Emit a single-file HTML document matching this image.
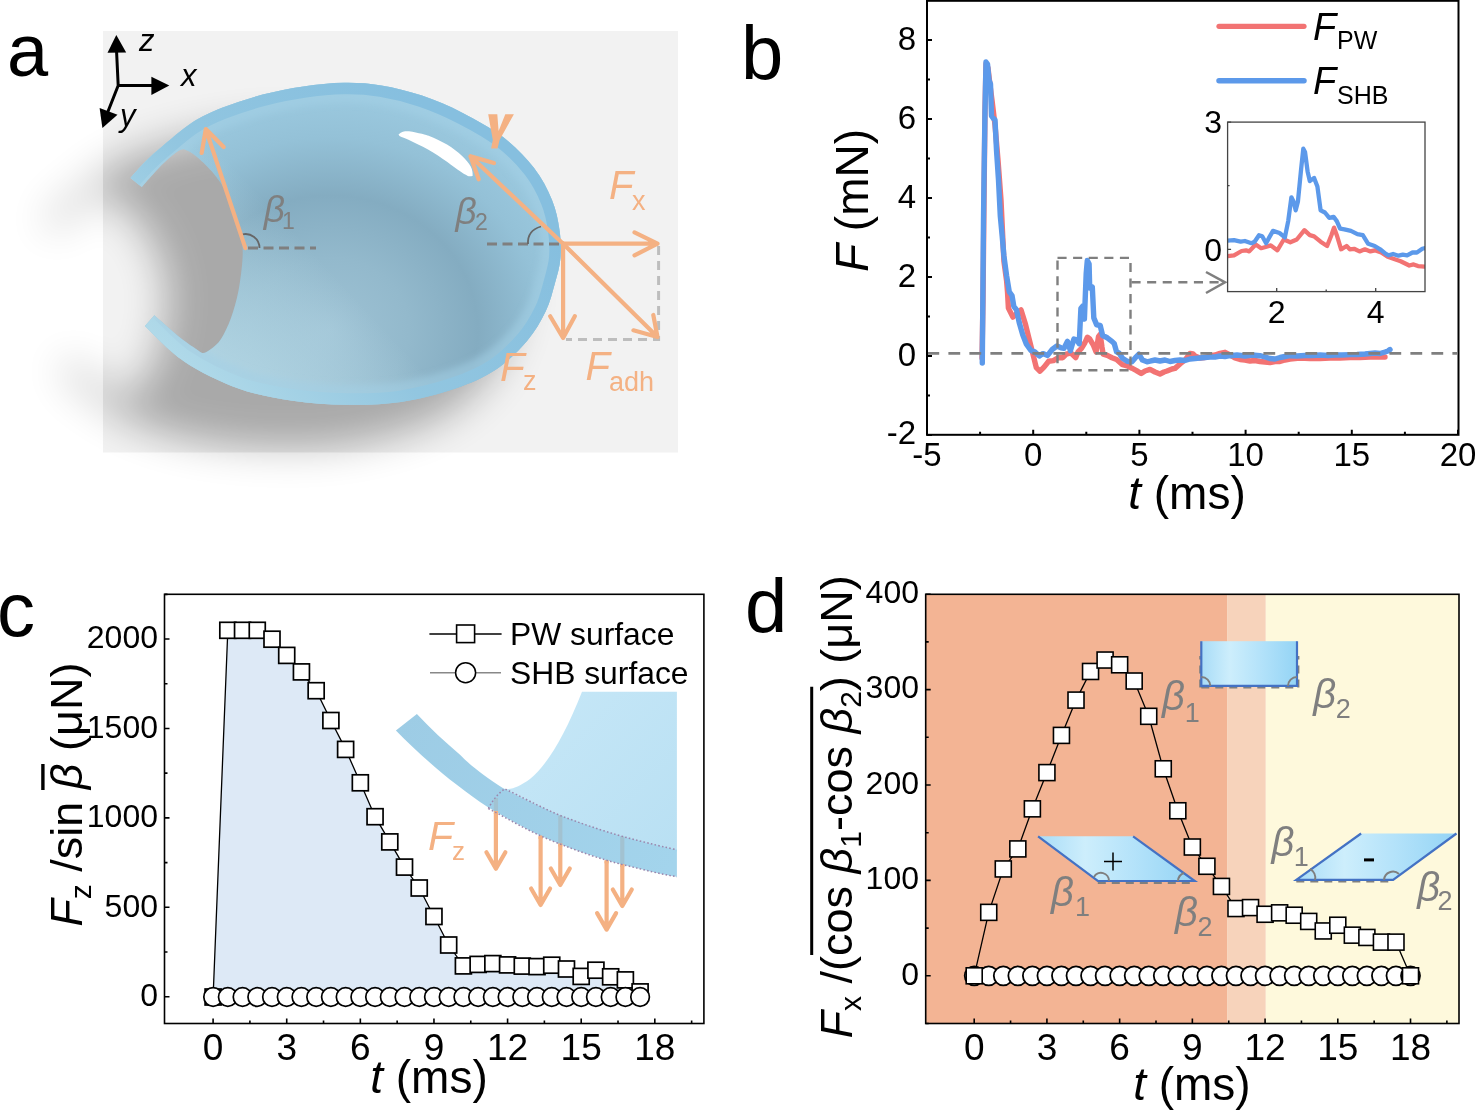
<!DOCTYPE html><html><head><meta charset="utf-8"><style>html,body{margin:0;padding:0;background:#fff;}svg{display:block;will-change:transform;}svg text{font-family:"Liberation Sans",sans-serif;}</style></head><body>
<svg width="1475" height="1110" viewBox="0 0 1475 1110">
<rect width="1475" height="1110" fill="#fff"/>
<defs>
<filter id="shblur" x="-50%" y="-50%" width="200%" height="200%"><feGaussianBlur stdDeviation="20"/></filter>
<filter id="rimblur" x="-10%" y="-10%" width="120%" height="120%"><feGaussianBlur stdDeviation="3"/></filter>
<clipPath id="boxclip"><rect x="103" y="31" width="575" height="421.5"/></clipPath>
<clipPath id="dropclip"><path d="M130.5,178.0 C132.9,175.3 139.9,167.1 145.0,162.0 C150.1,156.9 153.2,154.0 161.0,147.5 C168.8,141.0 181.3,129.6 191.5,123.0 C201.7,116.4 210.1,112.5 222.0,107.8 C233.9,103.1 249.1,98.2 262.7,94.6 C276.3,91.0 289.8,88.4 303.4,86.4 C316.9,84.4 331.0,83.0 344.0,82.8 C357.0,82.6 368.3,83.3 381.3,85.4 C394.3,87.5 408.4,91.0 422.0,95.6 C435.6,100.2 449.1,106.0 462.7,112.9 C476.3,119.9 491.5,128.2 503.4,137.3 C515.3,146.5 525.8,157.4 533.9,167.8 C542.0,178.2 547.7,189.6 552.0,200.0 C556.3,210.4 558.1,220.3 559.5,230.0 C560.9,239.7 561.2,249.2 560.5,258.0 C559.8,266.8 557.5,274.1 555.0,283.0 C552.5,291.9 550.3,301.9 545.6,311.6 C540.9,321.3 535.3,331.4 527.0,341.0 C518.7,350.6 507.9,361.6 496.0,369.5 C484.1,377.4 471.2,383.1 455.4,388.5 C439.6,393.9 419.1,399.3 401.0,402.0 C382.9,404.7 365.1,404.9 347.0,404.7 C328.9,404.5 310.8,403.4 292.7,400.7 C274.6,398.0 256.6,395.1 238.5,388.5 C220.4,381.9 199.8,371.8 184.2,361.4 C168.6,351.0 151.4,331.9 144.9,326.0 L154.4,315.3 C158.3,318.8 171.1,330.4 178.0,336.0 C184.9,341.6 191.8,346.2 196.0,349.0 C200.2,351.8 200.7,353.0 203.2,353.0 C205.7,353.0 208.0,351.3 211.0,349.0 C214.0,346.7 217.7,344.2 221.0,339.0 C224.3,333.8 228.1,326.0 231.0,318.0 C233.9,310.0 236.6,300.8 238.5,290.8 C240.4,280.8 242.1,266.8 242.6,258.0 C243.1,249.2 242.3,244.3 241.5,238.0 C240.7,231.7 240.1,227.7 237.5,220.0 C234.9,212.3 229.9,199.7 226.0,192.0 C222.1,184.3 218.6,179.6 213.9,173.9 C209.2,168.2 202.1,161.5 197.6,157.6 C193.1,153.7 189.9,151.8 187.0,150.5 C184.1,149.2 183.2,148.6 180.0,150.0 C176.8,151.4 172.2,155.3 168.0,159.0 C163.8,162.7 159.4,167.3 155.0,172.0 C150.6,176.7 143.9,184.6 141.7,187.1 Z"/></clipPath>
<radialGradient id="body" gradientUnits="userSpaceOnUse" cx="330" cy="330" r="240" gradientTransform="translate(330 330) scale(1.1 1) translate(-330 -330)"><stop offset="0" stop-color="#9ec2d4"/><stop offset="0.3" stop-color="#93b9cc"/><stop offset="0.56" stop-color="#84acc1"/><stop offset="0.8" stop-color="#94c1d7"/><stop offset="1" stop-color="#9ccae0"/></radialGradient>
<linearGradient id="bl" gradientUnits="userSpaceOnUse" x1="190" y1="400" x2="330" y2="270"><stop offset="0" stop-color="#c0e2ee" stop-opacity="0.9"/><stop offset="1" stop-color="#c4e6f1" stop-opacity="0"/></linearGradient>
<linearGradient id="rim" gradientUnits="userSpaceOnUse" x1="150" y1="360" x2="420" y2="100"><stop offset="0" stop-color="#b4dcea"/><stop offset="0.45" stop-color="#92c6e0"/><stop offset="1" stop-color="#86bfdf"/></linearGradient>
</defs>
<g filter="url(#shblur)" opacity="0.23"><path d="M130.5,178.0 C132.9,175.3 139.9,167.1 145.0,162.0 C150.1,156.9 153.2,154.0 161.0,147.5 C168.8,141.0 181.3,129.6 191.5,123.0 C201.7,116.4 210.1,112.5 222.0,107.8 C233.9,103.1 249.1,98.2 262.7,94.6 C276.3,91.0 289.8,88.4 303.4,86.4 C316.9,84.4 331.0,83.0 344.0,82.8 C357.0,82.6 368.3,83.3 381.3,85.4 C394.3,87.5 408.4,91.0 422.0,95.6 C435.6,100.2 449.1,106.0 462.7,112.9 C476.3,119.9 491.5,128.2 503.4,137.3 C515.3,146.5 525.8,157.4 533.9,167.8 C542.0,178.2 547.7,189.6 552.0,200.0 C556.3,210.4 558.1,220.3 559.5,230.0 C560.9,239.7 561.2,249.2 560.5,258.0 C559.8,266.8 557.5,274.1 555.0,283.0 C552.5,291.9 550.3,301.9 545.6,311.6 C540.9,321.3 535.3,331.4 527.0,341.0 C518.7,350.6 507.9,361.6 496.0,369.5 C484.1,377.4 471.2,383.1 455.4,388.5 C439.6,393.9 419.1,399.3 401.0,402.0 C382.9,404.7 365.1,404.9 347.0,404.7 C328.9,404.5 310.8,403.4 292.7,400.7 C274.6,398.0 256.6,395.1 238.5,388.5 C220.4,381.9 199.8,371.8 184.2,361.4 C168.6,351.0 151.4,331.9 144.9,326.0 L154.4,315.3 C158.3,318.8 171.1,330.4 178.0,336.0 C184.9,341.6 191.8,346.2 196.0,349.0 C200.2,351.8 200.7,353.0 203.2,353.0 C205.7,353.0 208.0,351.3 211.0,349.0 C214.0,346.7 217.7,344.2 221.0,339.0 C224.3,333.8 228.1,326.0 231.0,318.0 C233.9,310.0 236.6,300.8 238.5,290.8 C240.4,280.8 242.1,266.8 242.6,258.0 C243.1,249.2 242.3,244.3 241.5,238.0 C240.7,231.7 240.1,227.7 237.5,220.0 C234.9,212.3 229.9,199.7 226.0,192.0 C222.1,184.3 218.6,179.6 213.9,173.9 C209.2,168.2 202.1,161.5 197.6,157.6 C193.1,153.7 189.9,151.8 187.0,150.5 C184.1,149.2 183.2,148.6 180.0,150.0 C176.8,151.4 172.2,155.3 168.0,159.0 C163.8,162.7 159.4,167.3 155.0,172.0 C150.6,176.7 143.9,184.6 141.7,187.1 Z" transform="translate(-66 44) translate(340 245) scale(1.1 1.0) translate(-340 -245)" fill="#000"/></g>
<rect x="103" y="31" width="575" height="421.5" fill="#f2f2f2"/>
<g clip-path="url(#boxclip)"><g filter="url(#shblur)" opacity="0.3"><path d="M130.5,178.0 C132.9,175.3 139.9,167.1 145.0,162.0 C150.1,156.9 153.2,154.0 161.0,147.5 C168.8,141.0 181.3,129.6 191.5,123.0 C201.7,116.4 210.1,112.5 222.0,107.8 C233.9,103.1 249.1,98.2 262.7,94.6 C276.3,91.0 289.8,88.4 303.4,86.4 C316.9,84.4 331.0,83.0 344.0,82.8 C357.0,82.6 368.3,83.3 381.3,85.4 C394.3,87.5 408.4,91.0 422.0,95.6 C435.6,100.2 449.1,106.0 462.7,112.9 C476.3,119.9 491.5,128.2 503.4,137.3 C515.3,146.5 525.8,157.4 533.9,167.8 C542.0,178.2 547.7,189.6 552.0,200.0 C556.3,210.4 558.1,220.3 559.5,230.0 C560.9,239.7 561.2,249.2 560.5,258.0 C559.8,266.8 557.5,274.1 555.0,283.0 C552.5,291.9 550.3,301.9 545.6,311.6 C540.9,321.3 535.3,331.4 527.0,341.0 C518.7,350.6 507.9,361.6 496.0,369.5 C484.1,377.4 471.2,383.1 455.4,388.5 C439.6,393.9 419.1,399.3 401.0,402.0 C382.9,404.7 365.1,404.9 347.0,404.7 C328.9,404.5 310.8,403.4 292.7,400.7 C274.6,398.0 256.6,395.1 238.5,388.5 C220.4,381.9 199.8,371.8 184.2,361.4 C168.6,351.0 151.4,331.9 144.9,326.0 L154.4,315.3 C158.3,318.8 171.1,330.4 178.0,336.0 C184.9,341.6 191.8,346.2 196.0,349.0 C200.2,351.8 200.7,353.0 203.2,353.0 C205.7,353.0 208.0,351.3 211.0,349.0 C214.0,346.7 217.7,344.2 221.0,339.0 C224.3,333.8 228.1,326.0 231.0,318.0 C233.9,310.0 236.6,300.8 238.5,290.8 C240.4,280.8 242.1,266.8 242.6,258.0 C243.1,249.2 242.3,244.3 241.5,238.0 C240.7,231.7 240.1,227.7 237.5,220.0 C234.9,212.3 229.9,199.7 226.0,192.0 C222.1,184.3 218.6,179.6 213.9,173.9 C209.2,168.2 202.1,161.5 197.6,157.6 C193.1,153.7 189.9,151.8 187.0,150.5 C184.1,149.2 183.2,148.6 180.0,150.0 C176.8,151.4 172.2,155.3 168.0,159.0 C163.8,162.7 159.4,167.3 155.0,172.0 C150.6,176.7 143.9,184.6 141.7,187.1 Z" transform="translate(-66 44) translate(340 245) scale(1.1 1.0) translate(-340 -245)" fill="#000"/></g></g>
<path d="M130.5,178.0 C132.9,175.3 139.9,167.1 145.0,162.0 C150.1,156.9 153.2,154.0 161.0,147.5 C168.8,141.0 181.3,129.6 191.5,123.0 C201.7,116.4 210.1,112.5 222.0,107.8 C233.9,103.1 249.1,98.2 262.7,94.6 C276.3,91.0 289.8,88.4 303.4,86.4 C316.9,84.4 331.0,83.0 344.0,82.8 C357.0,82.6 368.3,83.3 381.3,85.4 C394.3,87.5 408.4,91.0 422.0,95.6 C435.6,100.2 449.1,106.0 462.7,112.9 C476.3,119.9 491.5,128.2 503.4,137.3 C515.3,146.5 525.8,157.4 533.9,167.8 C542.0,178.2 547.7,189.6 552.0,200.0 C556.3,210.4 558.1,220.3 559.5,230.0 C560.9,239.7 561.2,249.2 560.5,258.0 C559.8,266.8 557.5,274.1 555.0,283.0 C552.5,291.9 550.3,301.9 545.6,311.6 C540.9,321.3 535.3,331.4 527.0,341.0 C518.7,350.6 507.9,361.6 496.0,369.5 C484.1,377.4 471.2,383.1 455.4,388.5 C439.6,393.9 419.1,399.3 401.0,402.0 C382.9,404.7 365.1,404.9 347.0,404.7 C328.9,404.5 310.8,403.4 292.7,400.7 C274.6,398.0 256.6,395.1 238.5,388.5 C220.4,381.9 199.8,371.8 184.2,361.4 C168.6,351.0 151.4,331.9 144.9,326.0 L154.4,315.3 C158.3,318.8 171.1,330.4 178.0,336.0 C184.9,341.6 191.8,346.2 196.0,349.0 C200.2,351.8 200.7,353.0 203.2,353.0 C205.7,353.0 208.0,351.3 211.0,349.0 C214.0,346.7 217.7,344.2 221.0,339.0 C224.3,333.8 228.1,326.0 231.0,318.0 C233.9,310.0 236.6,300.8 238.5,290.8 C240.4,280.8 242.1,266.8 242.6,258.0 C243.1,249.2 242.3,244.3 241.5,238.0 C240.7,231.7 240.1,227.7 237.5,220.0 C234.9,212.3 229.9,199.7 226.0,192.0 C222.1,184.3 218.6,179.6 213.9,173.9 C209.2,168.2 202.1,161.5 197.6,157.6 C193.1,153.7 189.9,151.8 187.0,150.5 C184.1,149.2 183.2,148.6 180.0,150.0 C176.8,151.4 172.2,155.3 168.0,159.0 C163.8,162.7 159.4,167.3 155.0,172.0 C150.6,176.7 143.9,184.6 141.7,187.1 Z" fill="url(#body)"/>
<path d="M130.5,178.0 C132.9,175.3 139.9,167.1 145.0,162.0 C150.1,156.9 153.2,154.0 161.0,147.5 C168.8,141.0 181.3,129.6 191.5,123.0 C201.7,116.4 210.1,112.5 222.0,107.8 C233.9,103.1 249.1,98.2 262.7,94.6 C276.3,91.0 289.8,88.4 303.4,86.4 C316.9,84.4 331.0,83.0 344.0,82.8 C357.0,82.6 368.3,83.3 381.3,85.4 C394.3,87.5 408.4,91.0 422.0,95.6 C435.6,100.2 449.1,106.0 462.7,112.9 C476.3,119.9 491.5,128.2 503.4,137.3 C515.3,146.5 525.8,157.4 533.9,167.8 C542.0,178.2 547.7,189.6 552.0,200.0 C556.3,210.4 558.1,220.3 559.5,230.0 C560.9,239.7 561.2,249.2 560.5,258.0 C559.8,266.8 557.5,274.1 555.0,283.0 C552.5,291.9 550.3,301.9 545.6,311.6 C540.9,321.3 535.3,331.4 527.0,341.0 C518.7,350.6 507.9,361.6 496.0,369.5 C484.1,377.4 471.2,383.1 455.4,388.5 C439.6,393.9 419.1,399.3 401.0,402.0 C382.9,404.7 365.1,404.9 347.0,404.7 C328.9,404.5 310.8,403.4 292.7,400.7 C274.6,398.0 256.6,395.1 238.5,388.5 C220.4,381.9 199.8,371.8 184.2,361.4 C168.6,351.0 151.4,331.9 144.9,326.0 L154.4,315.3 C158.3,318.8 171.1,330.4 178.0,336.0 C184.9,341.6 191.8,346.2 196.0,349.0 C200.2,351.8 200.7,353.0 203.2,353.0 C205.7,353.0 208.0,351.3 211.0,349.0 C214.0,346.7 217.7,344.2 221.0,339.0 C224.3,333.8 228.1,326.0 231.0,318.0 C233.9,310.0 236.6,300.8 238.5,290.8 C240.4,280.8 242.1,266.8 242.6,258.0 C243.1,249.2 242.3,244.3 241.5,238.0 C240.7,231.7 240.1,227.7 237.5,220.0 C234.9,212.3 229.9,199.7 226.0,192.0 C222.1,184.3 218.6,179.6 213.9,173.9 C209.2,168.2 202.1,161.5 197.6,157.6 C193.1,153.7 189.9,151.8 187.0,150.5 C184.1,149.2 183.2,148.6 180.0,150.0 C176.8,151.4 172.2,155.3 168.0,159.0 C163.8,162.7 159.4,167.3 155.0,172.0 C150.6,176.7 143.9,184.6 141.7,187.1 Z" fill="url(#bl)"/>
<g clip-path="url(#dropclip)"><path d="M130.5,178.0 C132.9,175.3 139.9,167.1 145.0,162.0 C150.1,156.9 153.2,154.0 161.0,147.5 C168.8,141.0 181.3,129.6 191.5,123.0 C201.7,116.4 210.1,112.5 222.0,107.8 C233.9,103.1 249.1,98.2 262.7,94.6 C276.3,91.0 289.8,88.4 303.4,86.4 C316.9,84.4 331.0,83.0 344.0,82.8 C357.0,82.6 368.3,83.3 381.3,85.4 C394.3,87.5 408.4,91.0 422.0,95.6 C435.6,100.2 449.1,106.0 462.7,112.9 C476.3,119.9 491.5,128.2 503.4,137.3 C515.3,146.5 525.8,157.4 533.9,167.8 C542.0,178.2 547.7,189.6 552.0,200.0 C556.3,210.4 558.1,220.3 559.5,230.0 C560.9,239.7 561.2,249.2 560.5,258.0 C559.8,266.8 557.5,274.1 555.0,283.0 C552.5,291.9 550.3,301.9 545.6,311.6 C540.9,321.3 535.3,331.4 527.0,341.0 C518.7,350.6 507.9,361.6 496.0,369.5 C484.1,377.4 471.2,383.1 455.4,388.5 C439.6,393.9 419.1,399.3 401.0,402.0 C382.9,404.7 365.1,404.9 347.0,404.7 C328.9,404.5 310.8,403.4 292.7,400.7 C274.6,398.0 256.6,395.1 238.5,388.5 C220.4,381.9 199.8,371.8 184.2,361.4 C168.6,351.0 151.4,331.9 144.9,326.0" fill="none" stroke="#a3d0e6" stroke-opacity="0.55" stroke-width="40" filter="url(#rimblur)"/><path d="M130.5,178.0 C132.9,175.3 139.9,167.1 145.0,162.0 C150.1,156.9 153.2,154.0 161.0,147.5 C168.8,141.0 181.3,129.6 191.5,123.0 C201.7,116.4 210.1,112.5 222.0,107.8 C233.9,103.1 249.1,98.2 262.7,94.6 C276.3,91.0 289.8,88.4 303.4,86.4 C316.9,84.4 331.0,83.0 344.0,82.8 C357.0,82.6 368.3,83.3 381.3,85.4 C394.3,87.5 408.4,91.0 422.0,95.6 C435.6,100.2 449.1,106.0 462.7,112.9 C476.3,119.9 491.5,128.2 503.4,137.3 C515.3,146.5 525.8,157.4 533.9,167.8 C542.0,178.2 547.7,189.6 552.0,200.0 C556.3,210.4 558.1,220.3 559.5,230.0 C560.9,239.7 561.2,249.2 560.5,258.0 C559.8,266.8 557.5,274.1 555.0,283.0 C552.5,291.9 550.3,301.9 545.6,311.6 C540.9,321.3 535.3,331.4 527.0,341.0 C518.7,350.6 507.9,361.6 496.0,369.5 C484.1,377.4 471.2,383.1 455.4,388.5 C439.6,393.9 419.1,399.3 401.0,402.0 C382.9,404.7 365.1,404.9 347.0,404.7 C328.9,404.5 310.8,403.4 292.7,400.7 C274.6,398.0 256.6,395.1 238.5,388.5 C220.4,381.9 199.8,371.8 184.2,361.4 C168.6,351.0 151.4,331.9 144.9,326.0" fill="none" stroke="url(#rim)" stroke-width="23"/></g>
<path d="M398.5,134.6 C402,131 406,131.2 409,131.3 C418,132.5 428,135.6 428,135.6 C436,138.5 441,141.5 447,144.6 C453,148.5 458,152 462.1,156 C466,160 469,163 470.7,166.4 C472.5,170 472.8,173 472.6,175.9 C470,176.3 469,176.2 467.8,175.9 C465,174.5 463,173.5 461.2,172.1 C456,168.5 452,165.5 447,161.7 C441,157.5 435,153.5 428,149.4 C421,145.7 415,142.8 409,139.9 C405,138.2 402,137.3 399.5,136 Z" fill="#fff"/>
<g stroke="#000" stroke-width="3" fill="none"><path d="M118.2,85.5 L116.5,50 M118.2,85.5 H152 M118.2,85.5 L107,114"/></g>
<g fill="#000"><path d="M116.3,34.9 L107.5,52.8 L126.2,52.6 Z"/><path d="M169.3,85.5 L151.4,76.8 L151.4,94.9 Z"/><path d="M102.4,128.1 L99.6,108 L117.5,114.8 Z"/></g>
<g font-family='"Liberation Sans", sans-serif' font-size="31" font-style="italic" fill="#000"><text x="139" y="51.3">z</text><text x="181" y="86">x</text><text x="120" y="126">y</text></g>
<g stroke="#7f7f7f" stroke-width="3" stroke-dasharray="10,5.5" fill="none"><path d="M248,248.1 H316"/><path d="M487,244 H562"/></g>
<g stroke="#666" stroke-width="1.8" fill="none"><path d="M242,234.5 A14,14 0 0 1 259.5,248.1"/><path d="M528,244 C527.5,235 532,229 541,226.5"/></g>
<g stroke="#bdbdbd" stroke-width="3" stroke-dasharray="9,6" fill="none"><path d="M658.6,246 V339.4 H566"/></g>
<g stroke="#f4b183" stroke-width="4.2" fill="none" stroke-linecap="round" stroke-linejoin="round">
<path d="M245.4,248.1 L205.8,129.1 M201.7,153 L205.8,129.1 L223.7,147"/>
<path d="M563.1,243.7 L470.5,156.3 M478.7,179.3 L470.5,156.3 L493.9,163.1"/>
<path d="M563.1,243.7 H657 M634.5,232.4 L657.5,243.7 L634.5,255.4"/>
<path d="M563.1,243.7 V337.5 M550.2,316.2 L563.1,338 L574.8,316.2"/>
<path d="M563.1,243.7 L657,336.5 M633.4,330.3 L657.5,337 L653.3,315"/>
</g>
<g font-family='"Liberation Sans", sans-serif' fill="#f4b183">
<text x="609" y="199" font-size="40" font-style="italic">F</text><text x="632" y="209.7" font-size="27">x</text>
<text x="500" y="381" font-size="40.5" font-style="italic">F</text><text x="523" y="390" font-size="27">z</text>
<text x="585.5" y="380" font-size="40" font-style="italic">F</text><text x="609" y="390.7" font-size="27">adh</text>
<path d="M488.2,114.2 L497.3,114.2 L498.6,131 L505.3,114.2 L513.9,114.2 L499.6,139.9 L497.5,148.4 L491.1,148.4 L492.8,139.9 Z" fill="#f4b183"/>
</g>
<g font-family='"Liberation Sans", sans-serif' fill="#7f7f7f">
<text x="263.7" y="222" font-size="37" font-style="italic">&#946;</text><text x="282" y="228.8" font-size="23">1</text>
<text x="455.6" y="224" font-size="37" font-style="italic">&#946;</text><text x="475" y="229.8" font-size="23">2</text>
</g>
<g fill="none" stroke-linejoin="round" stroke-linecap="round">
<polyline points="982,358 983,300 984,200 985,110 986,64 988,68 990,85 992,100 995,125 998,160 1001,200 1003.9,261.2 1006.6,281 1007.5,291.9 1008.4,308.1 1012.9,317.1 1016.5,313.5 1021,309.9 1025.5,324.3 1029.1,338.8 1032.7,353.2 1036.3,367.6 1040,371.2 1044,367.1 1048.7,361.2 1053.4,360.6 1058.1,357.7 1062.8,357.7 1066.3,354.2 1071,353 1075.7,357.7 1078,351.9 1081.5,348.3 1085,342.5 1087.4,337.2 1089.7,339 1093.2,344.8 1096.1,351.9 1098.5,336.6 1100.2,334.3 1102,347.2 1103.2,354.2 1107.3,355.4 1112,357.7 1116.6,359.5 1122.5,364.7 1127.2,365.9 1131.9,368.2 1136.5,370.6 1141.2,373.5 1145,371 1150,369.4 1155,372 1160,374 1164,372 1167,371 1172,369 1175,368.4 1180,364 1185,360 1188,356 1190,353.4 1193,354 1195,356 1200,358 1205,357.5 1210,356 1215,355 1220,353.4 1225,352.3 1230,355 1235,358 1240,359.5 1245,360 1250,361 1255,360.5 1260,361.5 1265,362 1270,362.6 1275,361.5 1280,361.5 1285,360 1290,359 1295,358.5 1300,358 1310,358.5 1320,358.5 1330,358 1340,358 1350,357.5 1360,357.5 1370,357 1385,357" stroke="#f27373" stroke-width="5.4"/>
<polyline points="982.3,363 982.6,330 983,280 983.5,220 984,180 985,110 986,62 987.5,64 989,80 990.5,84 991,100 991.5,116 993,118 995,120 996.5,150 998.5,180 1000.3,216 1002,234 1003.9,255.8 1006.6,275.6 1009.3,291.9 1012,295.5 1013.8,306.3 1016.5,309.9 1019.2,322.5 1022.8,335.1 1026.4,344.2 1030.9,350.5 1034.7,351.9 1039.4,356 1042.9,353.6 1047.6,355.4 1052.2,349.5 1056.9,346 1061,347.8 1064,348.3 1067.5,341.3 1070.4,350.7 1073.9,339 1076.8,340.1 1079.2,343.7 1080.9,308.5 1082.7,306.2 1084.4,319.1 1086.2,273.4 1087.3,260.5 1089.1,264 1089.7,288 1092.3,287 1093.8,317.9 1096.7,324.9 1100.2,325.5 1102.6,335.5 1107.3,337.8 1111.9,341.3 1114.3,343.7 1116.6,351.9 1119,353 1122.5,358.3 1127.2,361.2 1131.9,361.8 1135.4,357.7 1138.9,354.2 1142.4,360 1147.1,361.8 1150,361.2 1155,360 1160,361 1165,360 1170,361.5 1175,360.5 1180,360 1185,360.5 1190,359 1195,358.5 1200,358 1205,357.5 1210,357 1215,357 1220,356 1225,356.5 1230,355.7 1237,355 1245,356 1252,355 1260,355.7 1265,357 1270,358.5 1275,359 1280,357.5 1285,356.5 1290,355.7 1297,356 1305,355.5 1312,355.5 1320,355 1328,355.5 1335,355 1342,355 1350,354.6 1357,354.5 1365,354 1370,353.5 1375,353 1380,353.5 1385,352 1388,351 1390,349.5" stroke="#5c99ea" stroke-width="5.4"/>
</g>
<line x1="927.4" y1="353.4" x2="1457" y2="353.4" stroke="#7f7f7f" stroke-width="2.8" stroke-dasharray="11.8,9.2"/>
<rect x="1057.5" y="257.9" width="73" height="112.3" fill="none" stroke="#7f7f7f" stroke-width="2.4" stroke-dasharray="9.1,6.5"/>
<line x1="1131.5" y1="282.3" x2="1222" y2="282.3" stroke="#7f7f7f" stroke-width="2.4" stroke-dasharray="9.1,6.5"/>
<polyline points="1206,272 1225,282.3 1206,293" fill="none" stroke="#7f7f7f" stroke-width="2.5"/>
<rect x="927.0" y="0.8" width="531.5" height="434.0" fill="none" stroke="#000" stroke-width="2"/>
<path d="M927,434.88h5M927,395.39h3M927,355.9h5M927,316.41h3M927,276.92h5M927,237.43h3M927,197.94h5M927,158.45h3M927,118.96h5M927,79.47h3M927,39.98h5M927,434.8v-5M980.1,434.8v-3M1033.2,434.8v-5M1086.3,434.8v-3M1139.4,434.8v-5M1192.5,434.8v-3M1245.6,434.8v-5M1298.7,434.8v-3M1351.8,434.8v-5M1404.9,434.8v-3M1458,434.8v-5" stroke="#000" stroke-width="2"/>
<g font-family='"Liberation Sans", sans-serif' font-size="33" fill="#000">
<g text-anchor="end">
<text x="916" y="444.48">-2</text>
<text x="916" y="365.5">0</text>
<text x="916" y="286.52">2</text>
<text x="916" y="207.54">4</text>
<text x="916" y="128.56">6</text>
<text x="916" y="49.58">8</text>
</g><g text-anchor="middle">
<text x="927" y="466.2">-5</text>
<text x="1033.2" y="466.2">0</text>
<text x="1139.4" y="466.2">5</text>
<text x="1245.6" y="466.2">10</text>
<text x="1351.8" y="466.2">15</text>
<text x="1458" y="466.2">20</text>
</g></g>
<text x="1187" y="509.2" font-family='"Liberation Sans", sans-serif' font-size="46" text-anchor="middle"><tspan font-style="italic">t</tspan> (ms)</text>
<text transform="translate(868.3,200.5) rotate(-90)" font-family='"Liberation Sans", sans-serif' font-size="46" text-anchor="middle"><tspan font-style="italic">F</tspan> (mN)</text>
<line x1="1219" y1="26.3" x2="1304" y2="26.3" stroke="#f27373" stroke-width="5.2" stroke-linecap="round"/>
<line x1="1219" y1="80.7" x2="1304" y2="80.7" stroke="#5c99ea" stroke-width="5.5" stroke-linecap="round"/>
<g font-family='"Liberation Sans", sans-serif' fill="#000">
<text x="1313" y="39.5" font-size="38" font-style="italic">F</text><text x="1337" y="49.4" font-size="25">PW</text>
<text x="1313" y="94" font-size="38" font-style="italic">F</text><text x="1337" y="104" font-size="25">SHB</text>
</g>
<clipPath id="inclip"><rect x="1227.6" y="122.1" width="197.4000000000001" height="169.50000000000003"/></clipPath>
<g clip-path="url(#inclip)" fill="none" stroke-linejoin="round" stroke-linecap="round">
<polyline points="1227.6,256.2 1234,255.3 1241.6,251 1246,250.3 1249.2,251.4 1255.7,244.5 1261.1,248.2 1266.5,246.7 1270.8,245.4 1277.3,250.3 1283.8,239.5 1290.3,242.3 1296.8,239.5 1304.4,230.2 1309.8,235.2 1314.1,236.3 1320.6,241.7 1327.1,246 1331.4,235.2 1334,227.6 1336.8,235.2 1341.1,249.3 1346.6,246 1349.8,249.3 1354.1,248.8 1359.5,251.4 1364.9,249.3 1370.4,251.4 1374.7,250.3 1381.2,252.5 1387.7,256.8 1394.1,259 1400.6,261.2 1409.3,265.5 1413.6,264.4 1418,266.1 1424.4,266.6" stroke="#f27373" stroke-width="4.3"/>
<polyline points="1227.6,240.6 1234,240.2 1240.6,241.7 1244.9,241 1251.4,243.2 1254.6,241.7 1259,235.2 1262.2,236.3 1266.1,243.2 1268.7,238.4 1273,230.9 1279.5,233 1284.9,237.4 1288.2,221.1 1291.4,197.3 1293.6,201.7 1295.7,210.3 1297.9,201.7 1301.1,169.2 1303.3,148.7 1305,151.9 1307.6,171.4 1309.8,181.1 1314.1,177.9 1317.4,186.5 1320.6,210.3 1324.9,212.5 1329.3,217.9 1333.6,216.8 1336.8,221.1 1340.1,228.7 1344.4,229.4 1350.9,230.9 1357.4,234.1 1362.8,235.2 1368.2,243.8 1374.7,246 1380.1,249.3 1385.5,253.6 1388.7,255.3 1393.1,254 1398.5,255.7 1402.8,254.7 1407.1,255.3 1412.5,252.5 1416.9,252.5 1422.3,248.8 1424.4,248.2" stroke="#5c99ea" stroke-width="4.3"/>
</g>
<rect x="1227.6" y="122.1" width="197.4000000000001" height="169.50000000000003" fill="none" stroke="#444" stroke-width="1.3"/>
<path d="M1227.6,249.3h3.5M1227.6,185.7h2M1227.6,122.1h3.5M1276.7,291.6v-3.5M1326.2,291.6v-2M1375.7,291.6v-3.5" stroke="#444" stroke-width="1.3"/>
<g font-family='"Liberation Sans", sans-serif' font-size="32" fill="#000">
<text x="1222" y="133" text-anchor="end">3</text>
<text x="1222" y="260.5" text-anchor="end">0</text>
<text x="1276.7" y="323" text-anchor="middle">2</text>
<text x="1375.7" y="323" text-anchor="middle">4</text>
</g>
<polygon points="213.1,997 227.82,630.3 242.55,630.3 257.27,630.3 272,639.2 286.72,655.4 301.44,671.9 316.17,690.7 330.89,720.5 345.62,749.4 360.34,782.8 375.06,816.7 389.79,841.9 404.51,867.1 419.24,888 433.96,916.5 448.68,945 463.41,965.9 478.13,964.4 492.86,963.6 507.58,964.9 522.3,966.1 537.03,966.6 551.75,965.2 566.48,969 581.2,976.4 595.92,970.2 610.65,976.8 625.37,979.9 640.1,991.9 640.1,996.7 213.1,996.7" fill="#dde9f6"/>
<defs><linearGradient id="cdrop" gradientUnits="userSpaceOnUse" x1="520" y1="700" x2="677" y2="850"><stop offset="0" stop-color="#c6e7f7"/><stop offset="1" stop-color="#b9e0f3"/></linearGradient>
<linearGradient id="cband" gradientUnits="userSpaceOnUse" x1="400" y1="720" x2="677" y2="860"><stop offset="0" stop-color="#9dcce5"/><stop offset="1" stop-color="#a3d4ec"/></linearGradient></defs>
<path d="M504.8,788.9 C512,790 520,786 530,779 C548,764 565,735 582,691.7 L676.9,691.7 L676.9,851.5 C655,846.7 640,842.7 624.2,838.6 C600,831.7 580,824.7 561,817.5 C540,808.7 520,797.7 503,790 Z" fill="url(#cdrop)"/>
<path d="M395.9,730.4 C420,755 450,782 488.4,807.6 C510,820 530,832 553.9,841.6 C580,852 600,859 624.2,865 C645,870 660,874 676.9,876.7 L676.9,849.8 C655,845 640,841 624.2,836.9 C600,830 580,823 561,815.8 C540,807 520,797 502.4,787.7 C485,777 470,765 460.3,755 C445,742 430,728 416.9,714 Z" fill="url(#cband)"/>
<g stroke="#a2c2d1" stroke-width="4.2" fill="none"><path d="M495.9,798 V811.9"/><path d="M560.3,815.5 V844.1"/><path d="M622.3,836.4 V864.5"/></g>
<g stroke="#f4b183" stroke-width="4.2" fill="none" stroke-linecap="round" stroke-linejoin="round">
<path d="M495.9,813.4V868.2 M486.4,852.2 L495.9,868.7 L505.4,852.2"/>
<path d="M540.6,837.4V904.5 M531.1,888.5 L540.6,905 L550.1,888.5"/>
<path d="M560.3,845.6V884.5 M550.8,868.5 L560.3,885 L569.8,868.5"/>
<path d="M606.6,861.8V929.1 M597.1,913.1 L606.6,929.6 L616.1,913.1"/>
<path d="M622.3,866V905.5 M612.8,889.5 L622.3,906 L631.8,889.5"/>
</g>
<g stroke="#f4b183" stroke-width="4.2" fill="none"><path d="M540.6,835.9 v3"/><path d="M606.6,860.3 v3"/><path d="M495.9,811 v3"/><path d="M560.3,843.5 v3"/><path d="M622.3,864 v3"/></g>
<path d="M488.4,808.5 C491,803 497,794 504.8,788.9 C520,796 540,807 561,815.8 C580,823 600,830 624.2,836.9 C640,841 655,845 676.9,849.8 M488.4,808.5 C510,820 530,832 553.9,841.6 C580,852 600,859 624.2,865 C645,870 660,874 676.9,876.7" fill="none" stroke="#9a87ad" stroke-width="1.5" stroke-dasharray="1.6,2.2"/>
<g font-family='"Liberation Sans", sans-serif' fill="#f4b183"><text x="428" y="849.8" font-size="41" font-style="italic">F</text><text x="452" y="860.3" font-size="26">z</text></g>
<polyline points="213.1,997 227.82,630.3 242.55,630.3 257.27,630.3 272,639.2 286.72,655.4 301.44,671.9 316.17,690.7 330.89,720.5 345.62,749.4 360.34,782.8 375.06,816.7 389.79,841.9 404.51,867.1 419.24,888 433.96,916.5 448.68,945 463.41,965.9 478.13,964.4 492.86,963.6 507.58,964.9 522.3,966.1 537.03,966.6 551.75,965.2 566.48,969 581.2,976.4 595.92,970.2 610.65,976.8 625.37,979.9 640.1,991.9" fill="none" stroke="#000" stroke-width="1.3"/>
<g fill="#fff" stroke="#000" stroke-width="1.7">
<rect x="205.1" y="989" width="16" height="16"/>
<rect x="219.82" y="622.3" width="16" height="16"/>
<rect x="234.55" y="622.3" width="16" height="16"/>
<rect x="249.27" y="622.3" width="16" height="16"/>
<rect x="264" y="631.2" width="16" height="16"/>
<rect x="278.72" y="647.4" width="16" height="16"/>
<rect x="293.44" y="663.9" width="16" height="16"/>
<rect x="308.17" y="682.7" width="16" height="16"/>
<rect x="322.89" y="712.5" width="16" height="16"/>
<rect x="337.62" y="741.4" width="16" height="16"/>
<rect x="352.34" y="774.8" width="16" height="16"/>
<rect x="367.06" y="808.7" width="16" height="16"/>
<rect x="381.79" y="833.9" width="16" height="16"/>
<rect x="396.51" y="859.1" width="16" height="16"/>
<rect x="411.24" y="880" width="16" height="16"/>
<rect x="425.96" y="908.5" width="16" height="16"/>
<rect x="440.68" y="937" width="16" height="16"/>
<rect x="455.41" y="957.9" width="16" height="16"/>
<rect x="470.13" y="956.4" width="16" height="16"/>
<rect x="484.86" y="955.6" width="16" height="16"/>
<rect x="499.58" y="956.9" width="16" height="16"/>
<rect x="514.3" y="958.1" width="16" height="16"/>
<rect x="529.03" y="958.6" width="16" height="16"/>
<rect x="543.75" y="957.2" width="16" height="16"/>
<rect x="558.48" y="961" width="16" height="16"/>
<rect x="573.2" y="968.4" width="16" height="16"/>
<rect x="587.92" y="962.2" width="16" height="16"/>
<rect x="602.65" y="968.8" width="16" height="16"/>
<rect x="617.37" y="971.9" width="16" height="16"/>
<rect x="632.1" y="983.9" width="16" height="16"/>
</g>
<g fill="#fff" stroke="#000" stroke-width="1.7">
<circle cx="213.1" cy="997" r="9.3"/>
<circle cx="227.82" cy="997" r="9.3"/>
<circle cx="242.55" cy="997" r="9.3"/>
<circle cx="257.27" cy="997" r="9.3"/>
<circle cx="272" cy="997" r="9.3"/>
<circle cx="286.72" cy="997" r="9.3"/>
<circle cx="301.44" cy="997" r="9.3"/>
<circle cx="316.17" cy="997" r="9.3"/>
<circle cx="330.89" cy="997" r="9.3"/>
<circle cx="345.62" cy="997" r="9.3"/>
<circle cx="360.34" cy="997" r="9.3"/>
<circle cx="375.06" cy="997" r="9.3"/>
<circle cx="389.79" cy="997" r="9.3"/>
<circle cx="404.51" cy="997" r="9.3"/>
<circle cx="419.24" cy="997" r="9.3"/>
<circle cx="433.96" cy="997" r="9.3"/>
<circle cx="448.68" cy="997" r="9.3"/>
<circle cx="463.41" cy="997" r="9.3"/>
<circle cx="478.13" cy="997" r="9.3"/>
<circle cx="492.86" cy="997" r="9.3"/>
<circle cx="507.58" cy="997" r="9.3"/>
<circle cx="522.3" cy="997" r="9.3"/>
<circle cx="537.03" cy="997" r="9.3"/>
<circle cx="551.75" cy="997" r="9.3"/>
<circle cx="566.48" cy="997" r="9.3"/>
<circle cx="581.2" cy="997" r="9.3"/>
<circle cx="595.92" cy="997" r="9.3"/>
<circle cx="610.65" cy="997" r="9.3"/>
<circle cx="625.37" cy="997" r="9.3"/>
<circle cx="640.1" cy="997" r="9.3"/>
</g>
<rect x="164.5" y="594.3" width="539.4" height="429.20000000000005" fill="none" stroke="#000" stroke-width="1.6"/>
<path d="M164.5,996.7h5M164.5,951.99h3M164.5,907.29h5M164.5,862.58h3M164.5,817.87h5M164.5,773.16h3M164.5,728.46h5M164.5,683.75h3M164.5,639.04h5M164.5,594.33h3M213.1,1023.5v-5M286.72,1023.5v-5M360.34,1023.5v-5M433.96,1023.5v-5M507.58,1023.5v-5M581.2,1023.5v-5M654.82,1023.5v-5M249.91,1023.5v-3M323.53,1023.5v-3M397.15,1023.5v-3M470.77,1023.5v-3M544.39,1023.5v-3M618.01,1023.5v-3M691.63,1023.5v-3" stroke="#000" stroke-width="1.6"/>
<g font-family='"Liberation Sans", sans-serif' fill="#000">
<g text-anchor="end" font-size="32">
<text x="158" y="1006">0</text>
<text x="158" y="916.59">500</text>
<text x="158" y="827.17">1000</text>
<text x="158" y="737.75">1500</text>
<text x="158" y="648.34">2000</text>
</g><g text-anchor="middle" font-size="37">
<text x="213.1" y="1059.5">0</text>
<text x="286.72" y="1059.5">3</text>
<text x="360.34" y="1059.5">6</text>
<text x="433.96" y="1059.5">9</text>
<text x="507.58" y="1059.5">12</text>
<text x="581.2" y="1059.5">15</text>
<text x="654.82" y="1059.5">18</text>
</g>
<text x="429" y="1092.9" font-size="46" text-anchor="middle"><tspan font-style="italic">t</tspan> (ms)</text>
<line x1="42.9" y1="764" x2="42.9" y2="790" stroke="#000" stroke-width="3.4"/>
<text transform="translate(81.7,794.7) rotate(-90)" font-size="45" text-anchor="middle"><tspan font-style="italic">F</tspan><tspan font-size="30" dy="9">z</tspan><tspan dy="-9"> /sin </tspan><tspan font-style="italic">&#946;</tspan> (&#956;N)</text>
</g>
<line x1="429.4" y1="634" x2="501.6" y2="634" stroke="#000" stroke-width="1.5"/>
<rect x="456.6" y="625" width="18" height="17.6" fill="#fff" stroke="#000" stroke-width="1.6"/>
<line x1="430" y1="672.7" x2="501" y2="672.7" stroke="#888" stroke-width="1.5"/>
<circle cx="465.6" cy="672.7" r="10" fill="#fff" stroke="#000" stroke-width="1.5"/>
<g font-family='"Liberation Sans", sans-serif' font-size="31.8" fill="#000">
<text x="510" y="644.8">PW surface</text>
<text x="510" y="683.6">SHB surface</text>
</g>
<rect x="925.7" y="594.3" width="301.39999999999986" height="429.20000000000005" fill="#f3b494"/>
<rect x="1227.1" y="594.3" width="38.7" height="429.20000000000005" fill="#f7d3bb"/>
<rect x="1265.8" y="594.3" width="193.20000000000005" height="429.20000000000005" fill="#fef9dc"/>
<defs><linearGradient id="dg" x1="0" y1="0" x2="1" y2="0"><stop offset="0" stop-color="#a8dcf7"/><stop offset="0.3" stop-color="#cdeefc"/><stop offset="0.6" stop-color="#b5e3fa"/><stop offset="1" stop-color="#94d4f5"/></linearGradient></defs>
<polygon points="1038.1,836.3 1133.1,836.3 1194.7,881 1097.8,881" fill="url(#dg)"/>
<path d="M1097.8,883 H1194.7" stroke="#7f7f7f" stroke-width="2.2" stroke-dasharray="8,6"/>
<path d="M1038.1,836.3 L1097.8,881 H1194.7 L1133.1,836.3" fill="none" stroke="#4472c4" stroke-width="2.2"/>
<path d="M1094,877 A8,8 0 0 1 1109,881 M1178,881 A9,9 0 0 1 1184,873" fill="none" stroke="#7f7f7f" stroke-width="2"/>
<path d="M1104,861.4 h18 M1113,852.4 v18" stroke="#000" stroke-width="1.5"/>
<rect x="1201.3" y="641.2" width="95.7" height="44.7" fill="url(#dg)"/>
<path d="M1201.3,687.5 H1297 M1200.3,687.5 V656 M1298.3,687.5 V656" stroke="#7f7f7f" stroke-width="2.2" stroke-dasharray="8,6"/>
<path d="M1201.3,641.2 V685.9 H1297 V641.2" fill="none" stroke="#4472c4" stroke-width="2.2"/>
<path d="M1201.3,677 A9,9 0 0 1 1210.3,686 M1288,686 A9,9 0 0 1 1297,677" fill="none" stroke="#7f7f7f" stroke-width="2"/>
<polygon points="1361.1,833.5 1456.5,833.5 1393.1,879.8 1296.3,879.8" fill="url(#dg)"/>
<path d="M1296.3,881.5 H1393.1" stroke="#7f7f7f" stroke-width="2.2" stroke-dasharray="8,6"/>
<path d="M1361.1,833.5 L1296.3,879.8 H1393.1 L1456.5,833.5" fill="none" stroke="#4472c4" stroke-width="2.2"/>
<path d="M1310,869 A10,10 0 0 1 1315,880 M1384,879.8 A9,9 0 0 1 1399,874" fill="none" stroke="#7f7f7f" stroke-width="2"/>
<path d="M1364,859.9 h10" stroke="#000" stroke-width="3"/>
<g font-family='"Liberation Sans", sans-serif' fill="#7f7f7f">
<text x="1051" y="906.3" font-size="40" font-style="italic">&#946;</text><text x="1075" y="915.6" font-size="27">1</text>
<text x="1175" y="926" font-size="40" font-style="italic">&#946;</text><text x="1197.5" y="935.9" font-size="27">2</text>
<text x="1162" y="710.2" font-size="40" font-style="italic">&#946;</text><text x="1184.7" y="721.7" font-size="27">1</text>
<text x="1313.3" y="707.8" font-size="40" font-style="italic">&#946;</text><text x="1335.7" y="718.4" font-size="27">2</text>
<text x="1271.4" y="855.7" font-size="40" font-style="italic">&#946;</text><text x="1293.8" y="865.6" font-size="27">1</text>
<text x="1417.3" y="901.3" font-size="40" font-style="italic">&#946;</text><text x="1437.4" y="910.4" font-size="27">2</text>
</g>
<g fill="#fff" stroke="#000" stroke-width="1.8">
<circle cx="974.2" cy="975.8" r="9.5"/>
<circle cx="988.74" cy="975.8" r="9.5"/>
<circle cx="1003.29" cy="975.8" r="9.5"/>
<circle cx="1017.83" cy="975.8" r="9.5"/>
<circle cx="1032.38" cy="975.8" r="9.5"/>
<circle cx="1046.92" cy="975.8" r="9.5"/>
<circle cx="1061.46" cy="975.8" r="9.5"/>
<circle cx="1076.01" cy="975.8" r="9.5"/>
<circle cx="1090.55" cy="975.8" r="9.5"/>
<circle cx="1105.1" cy="975.8" r="9.5"/>
<circle cx="1119.64" cy="975.8" r="9.5"/>
<circle cx="1134.18" cy="975.8" r="9.5"/>
<circle cx="1148.73" cy="975.8" r="9.5"/>
<circle cx="1163.27" cy="975.8" r="9.5"/>
<circle cx="1177.82" cy="975.8" r="9.5"/>
<circle cx="1192.36" cy="975.8" r="9.5"/>
<circle cx="1206.9" cy="975.8" r="9.5"/>
<circle cx="1221.45" cy="975.8" r="9.5"/>
<circle cx="1235.99" cy="975.8" r="9.5"/>
<circle cx="1250.54" cy="975.8" r="9.5"/>
<circle cx="1265.08" cy="975.8" r="9.5"/>
<circle cx="1279.62" cy="975.8" r="9.5"/>
<circle cx="1294.17" cy="975.8" r="9.5"/>
<circle cx="1308.71" cy="975.8" r="9.5"/>
<circle cx="1323.26" cy="975.8" r="9.5"/>
<circle cx="1337.8" cy="975.8" r="9.5"/>
<circle cx="1352.34" cy="975.8" r="9.5"/>
<circle cx="1366.89" cy="975.8" r="9.5"/>
<circle cx="1381.43" cy="975.8" r="9.5"/>
<circle cx="1395.98" cy="975.8" r="9.5"/>
<circle cx="1410.52" cy="975.8" r="9.5"/>
</g>
<polyline points="974.2,975.8 988.74,912.36 1003.29,868.95 1017.83,848.92 1032.38,808.85 1046.92,772.6 1061.46,735.39 1076.01,700.09 1090.55,671.47 1105.1,660.03 1119.64,664.8 1134.18,681.01 1148.73,716.31 1163.27,768.78 1177.82,810.76 1192.36,847.01 1206.9,866.28 1221.45,886.41 1235.99,908.54 1250.54,907.59 1265.08,914.27 1279.62,912.84 1294.17,915.22 1308.71,921.42 1323.26,930.96 1337.8,925.24 1352.34,935.16 1366.89,937.45 1381.43,942.12 1395.98,942.12 1410.52,975.8" fill="none" stroke="#000" stroke-width="1.3"/>
<g fill="#fff" stroke="#000" stroke-width="1.6">
<rect x="966.2" y="967.8" width="16" height="16"/>
<rect x="980.74" y="904.36" width="16" height="16"/>
<rect x="995.29" y="860.95" width="16" height="16"/>
<rect x="1009.83" y="840.92" width="16" height="16"/>
<rect x="1024.38" y="800.85" width="16" height="16"/>
<rect x="1038.92" y="764.6" width="16" height="16"/>
<rect x="1053.46" y="727.39" width="16" height="16"/>
<rect x="1068.01" y="692.09" width="16" height="16"/>
<rect x="1082.55" y="663.47" width="16" height="16"/>
<rect x="1097.1" y="652.03" width="16" height="16"/>
<rect x="1111.64" y="656.8" width="16" height="16"/>
<rect x="1126.18" y="673.01" width="16" height="16"/>
<rect x="1140.73" y="708.31" width="16" height="16"/>
<rect x="1155.27" y="760.78" width="16" height="16"/>
<rect x="1169.82" y="802.76" width="16" height="16"/>
<rect x="1184.36" y="839.01" width="16" height="16"/>
<rect x="1198.9" y="858.28" width="16" height="16"/>
<rect x="1213.45" y="878.41" width="16" height="16"/>
<rect x="1227.99" y="900.54" width="16" height="16"/>
<rect x="1242.54" y="899.59" width="16" height="16"/>
<rect x="1257.08" y="906.27" width="16" height="16"/>
<rect x="1271.62" y="904.84" width="16" height="16"/>
<rect x="1286.17" y="907.22" width="16" height="16"/>
<rect x="1300.71" y="913.42" width="16" height="16"/>
<rect x="1315.26" y="922.96" width="16" height="16"/>
<rect x="1329.8" y="917.24" width="16" height="16"/>
<rect x="1344.34" y="927.16" width="16" height="16"/>
<rect x="1358.89" y="929.45" width="16" height="16"/>
<rect x="1373.43" y="934.12" width="16" height="16"/>
<rect x="1387.98" y="934.12" width="16" height="16"/>
<rect x="1402.52" y="967.8" width="16" height="16"/>
</g>
<rect x="925.7" y="594.3" width="533.3" height="429.20000000000005" fill="none" stroke="#000" stroke-width="1.6"/>
<path d="M925.7,1023.5h3M925.7,975.8h5M925.7,928.1h3M925.7,880.4h5M925.7,832.7h3M925.7,785h5M925.7,737.3h3M925.7,689.6h5M925.7,641.9h3M925.7,594.2h5M974.2,1023.5v-5M1046.92,1023.5v-5M1119.64,1023.5v-5M1192.36,1023.5v-5M1265.08,1023.5v-5M1337.8,1023.5v-5M1410.52,1023.5v-5M1010.56,1023.5v-3M1083.28,1023.5v-3M1156,1023.5v-3M1228.72,1023.5v-3M1301.44,1023.5v-3M1374.16,1023.5v-3M1446.88,1023.5v-3" stroke="#000" stroke-width="1.6"/>
<g font-family='"Liberation Sans", sans-serif' fill="#000">
<g text-anchor="end" font-size="32">
<text x="919" y="984.6">0</text>
<text x="919" y="889.2">100</text>
<text x="919" y="793.8">200</text>
<text x="919" y="698.4">300</text>
<text x="919" y="603">400</text>
</g><g text-anchor="middle" font-size="37">
<text x="974.2" y="1059.5">0</text>
<text x="1046.92" y="1059.5">3</text>
<text x="1119.64" y="1059.5">6</text>
<text x="1192.36" y="1059.5">9</text>
<text x="1265.08" y="1059.5">12</text>
<text x="1337.8" y="1059.5">15</text>
<text x="1410.52" y="1059.5">18</text>
</g>
<text x="1191.9" y="1100" font-size="46" text-anchor="middle"><tspan font-style="italic">t</tspan> (ms)</text>
<text transform="translate(851.8,1038.5) rotate(-90)" font-size="45"><tspan font-style="italic">F</tspan><tspan font-size="30" dy="9">x</tspan><tspan dy="-9"> /(cos </tspan><tspan font-style="italic">&#946;</tspan><tspan font-size="30" dy="9">1</tspan><tspan dy="-9">-cos </tspan><tspan font-style="italic">&#946;</tspan><tspan font-size="30" dy="9">2</tspan><tspan dy="-9">) (&#956;N)</tspan></text>
</g>
<line x1="811.7" y1="955" x2="811.7" y2="686.8" stroke="#000" stroke-width="3"/>
<g font-family='"Liberation Sans", sans-serif' font-size="76" fill="#000">
<text x="7" y="75.8" font-size="74">a</text>
<text x="741" y="78.8">b</text>
<text x="-3" y="636">c</text>
<text x="745" y="631.8">d</text>
</g>
</svg></body></html>
